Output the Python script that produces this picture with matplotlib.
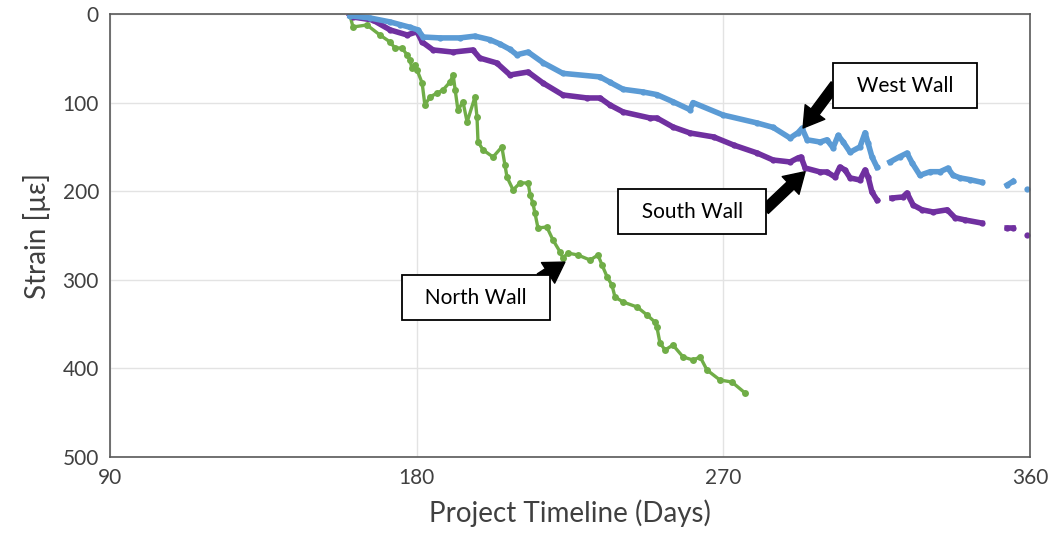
import numpy as np
import matplotlib as mpl
mpl.use('Agg')
import matplotlib.pyplot as plt

# values
west_days = [160.4, 166.3, 172.2, 175.1, 178.0, 180.4, 181.9, 186.8, 192.7, 197.1, 201.5, 204.5,
             207.4, 209.4, 212.7, 217.1, 222.9, 233.8, 236.7, 240.6, 246.4, 250.5, 255.2, 260.2,
             261.1, 269.9, 279.9, 284.6, 289.6, 291.9, 293.1, 294.6, 298.4, 300.4, 302.2, 303.7,
             305.1, 307.2, 310.1, 311.6, 312.5, 313.6, 315.1, np.nan, 318.9, 321.8, 323.9, 325.4,
             327.7, 330.7, 333.6, 335.9, 337.4, 339.5, 342.4, 345.9, np.nan, 353.3, 355.0, np.nan, 359.1]
west_strain = [2, 4.5, 9, 12, 15, 18, 26, 27, 27, 25, 29, 34,
               40, 46, 43, 55, 67, 71, 77, 85, 88, 91, 99, 108,
               100, 114, 123, 128, 140, 134, 129, 142, 144.5, 142, 151, 137,
               144, 156, 150, 134, 146, 161, 173, np.nan, 167, 161, 157, 168,
               182, 178, 178, 174, 182, 185, 187, 190, np.nan, 193, 189, np.nan, 197.5]

south_days = [160.4, 161.3, 167.1, 172.2, 177.2, 180.1, 181.6, 184.8, 190.7, 196.5, 198.5, 203.5,
              207.4, 212.7, 217.1, 222.9, 230.0, 233.8, 236.7, 240.6, 248.5, 250.5, 255.2, 260.2,
              267.2, 273.0, 279.9, 284.6, 289.6, 291.9, 292.8, 294.0, 298.4, 300.4, 302.8, 304.2,
              305.7, 307.2, 310.1, 311.6, 312.5, 313.6, 315.1, np.nan, 319.5, 322.7, 323.9, 325.7,
              328.3, 331.6, 335.7, 338.0, 341.0, 345.9, np.nan, 353.3, 355.0, np.nan, 359.1]
south_strain = [1, 3.4, 6.8, 18, 23.7, 20, 31.6, 40.6, 43, 40.6, 49.7, 55.3,
                68.8, 65.5, 78, 91.4, 94.8, 94.8, 102.7, 110.6, 117.4, 117.4, 127.5, 134.3,
                138.8, 147.9, 156.9, 164.8, 167, 162.5, 161.4, 173.8, 178.3, 178.3, 184, 172.7,
                176, 185, 187.4, 176, 184, 200.9, 210, np.nan, 207.7, 206.5, 202, 215.6,
                221, 223.5, 221, 230, 232.5, 236, np.nan, 241.5, 241.5, np.nan, 249.4]

north_days = [160.4, 161.3, 165.4, 169.2, 172.2, 173.6, 175.7, 177.2, 178.0, 178.6, 179.5, 180.1,
              181.6, 182.4, 183.9, 186.0, 187.7, 189.8, 190.7, 191.3, 192.1, 193.6, 194.8, 197.1,
              197.7, 198.0, 199.5, 202.4, 205.0, 205.9, 206.5, 208.3, 210.3, 212.7, 213.3, 214.1,
              214.7, 215.6, 218.2, 220.0, 222.1, 222.9, 224.4, 227.3, 230.9, 233.2, 234.4, 235.9,
              237.3, 238.2, 240.6, 244.7, 247.6, 249.9, 250.5, 251.4, 252.9, 255.2, 258.2, 261.1,
              263.2, 265.2, 269.0, 272.5, 276.4]
north_strain = [1.1, 14.7, 12.4, 23.7, 31.6, 38.4, 38.4, 46.3, 51.9, 60.9, 57.6, 63.2,
                77.9, 102.7, 93.7, 89.2, 85.8, 76.7, 68.8, 85.8, 108.4, 99.3, 121.9, 93.7,
                116.3, 144.5, 153.5, 161.4, 150.1, 170.4, 184.0, 198.6, 190.7, 190.7, 204.3, 213.3,
                224.6, 241.5, 240.4, 255.1, 268.6, 275.4, 269.8, 272.0, 277.7, 272.0, 283.3, 296.8,
                305.9, 319.4, 325.1, 330.7, 339.7, 347.6, 353.3, 371.3, 379.2, 373.6, 387.1, 390.5,
                387.1, 401.8, 413.1, 415.3, 427.8]

x_ticks = [90, 180, 270, 360]
y_ticks = [0, 100, 200, 300, 400, 500]

plt.rcParams['font.family'] = ['Lato', 'DejaVu Sans']

fig = plt.figure(figsize=(10.55, 5.48), dpi=100)
ax = fig.add_axes([0.1043, 0.166, 0.872, 0.8085])

ax.plot(north_days, north_strain, color='#70AD47', lw=2.4, marker='o', ms=5, mec='none')
ax.plot(south_days, south_strain, color='#7030A0', lw=4, marker='o', ms=4.5, mec='none')
ax.plot(west_days, west_strain, color='#5B9BD5', lw=4, marker='o', ms=4.5, mec='none')

ax.set_xlim(90, 360)
ax.set_ylim(500, 0)
ax.set_xticks(x_ticks)
ax.set_yticks(y_ticks)
ax.tick_params(length=0, labelsize=15, colors='#404040', pad=8)
ax.grid(True, color='#e3e3e3', lw=1)
ax.set_axisbelow(True)
for s in ax.spines.values():
    s.set_color('#595959')
    s.set_linewidth(1.2)

ax.set_xlabel('Project Timeline (Days)', fontsize=20, color='#404040', labelpad=8)
ax.set_ylabel('Strain [µε]', fontsize=20, color='#404040', labelpad=8)

arrow = dict(arrowstyle='simple,head_width=1.1,head_length=0.9,tail_width=0.45',
             fc='black', ec='black', mutation_scale=16, shrinkA=0, shrinkB=0)
box = dict(boxstyle='square,pad=0.6', fc='white', ec='black', lw=1.3)

ax.annotate('', xy=(293.4, 128.7), xytext=(302.8, 80), arrowprops=arrow)
ax.annotate('', xy=(294.0, 178), xytext=(282.2, 221), arrowprops=arrow)
ax.annotate('', xy=(223.5, 280), xytext=(216.2, 298), arrowprops=arrow)

ax.text(323.3, 81, '  West Wall  ', fontsize=15, ha='center', va='center', bbox=box)
ax.text(260.8, 223, '  South Wall  ', fontsize=15, ha='center', va='center', bbox=box)
ax.text(197.4, 320, '  North Wall  ', fontsize=15, ha='center', va='center', bbox=box)

plt.savefig('out.png', dpi=100)
